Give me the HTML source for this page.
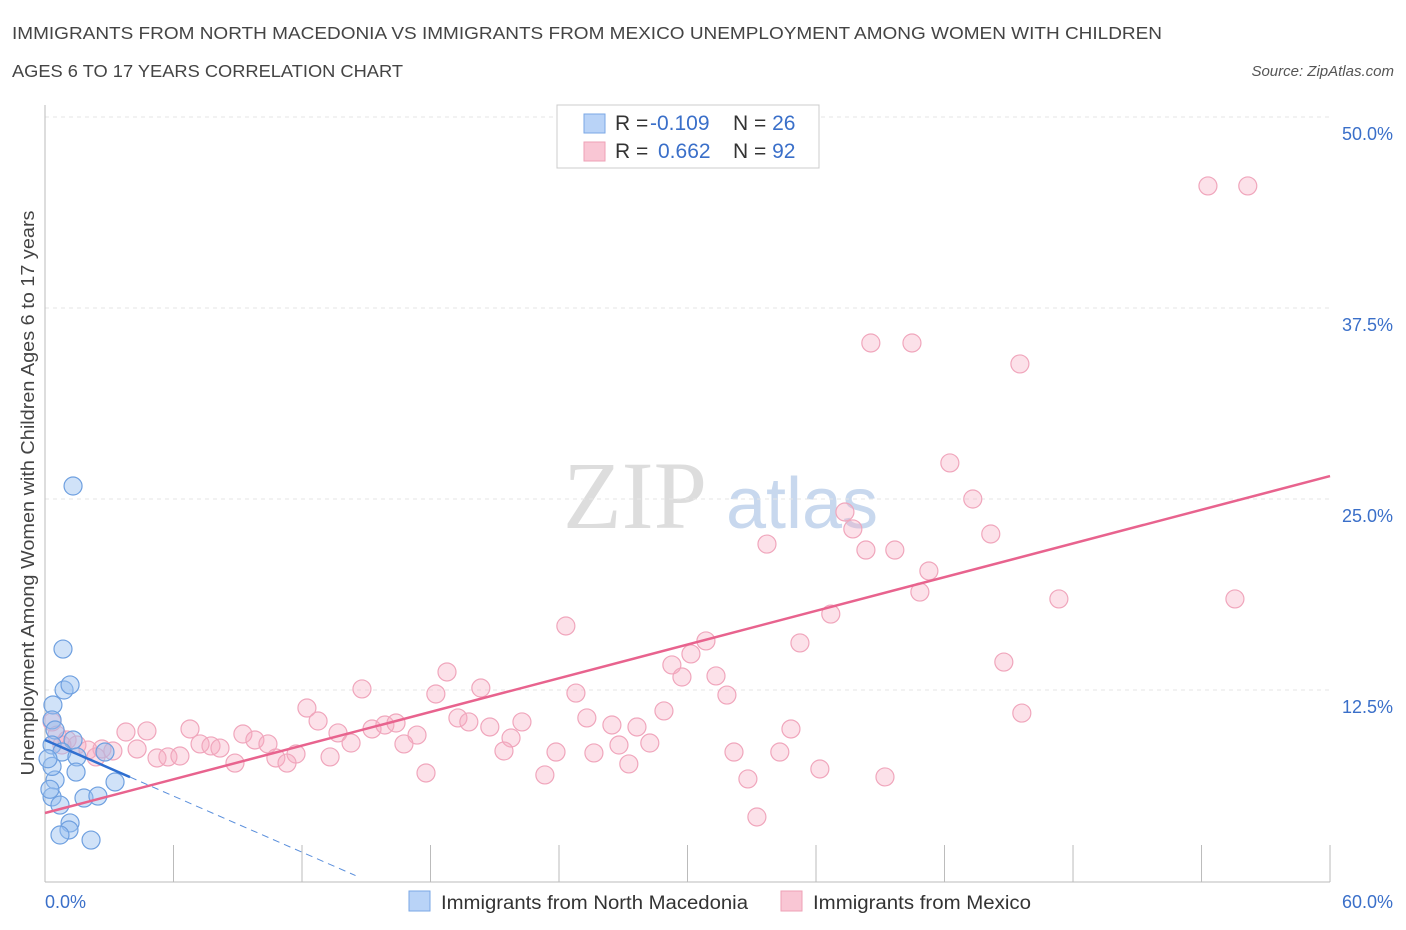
<!DOCTYPE html>
<html><head><meta charset="utf-8"><style>
body{margin:0;background:#fff;font-family:"Liberation Sans",sans-serif}
svg{display:block}
</style></head><body>
<svg id="c" width="1406" height="930" xmlns="http://www.w3.org/2000/svg">
<text x="12" y="39" font-size="17.5" textLength="1150" lengthAdjust="spacingAndGlyphs" fill="#444">IMMIGRANTS FROM NORTH MACEDONIA VS IMMIGRANTS FROM MEXICO UNEMPLOYMENT AMONG WOMEN WITH CHILDREN</text>
<text x="12" y="77" font-size="17.5" textLength="391" lengthAdjust="spacingAndGlyphs" fill="#444">AGES 6 TO 17 YEARS CORRELATION CHART</text>
<text x="1394" y="76" font-size="15" font-style="italic" fill="#555" text-anchor="end">Source: ZipAtlas.com</text>
<text x="635" y="528" font-size="96" font-family="Liberation Serif,serif" fill="#ddd" text-anchor="middle">ZIP</text>
<text x="802" y="528" font-size="72" fill="#c8d8ee" text-anchor="middle">atlas</text>
<text transform="translate(34,493) rotate(-90)" font-size="18" textLength="565" lengthAdjust="spacingAndGlyphs" fill="#444" text-anchor="middle">Unemployment Among Women with Children Ages 6 to 17 years</text>
<g id="grid"></g><g id="marks"></g>
<g>
<rect x="557" y="105" width="262" height="63" fill="#fff" stroke="#ccc"/>
<rect x="584" y="114" width="21" height="19" fill="#b9d3f7" stroke="#7aa7e6"/>
<rect x="584" y="142" width="21" height="19" fill="#f9c6d4" stroke="#eea0b6"/>
<text x="615" y="130" font-size="21" fill="#333">R = <tspan x="650" fill="#3a6fc9">-0.109</tspan><tspan x="733">N = </tspan><tspan fill="#3a6fc9">26</tspan></text>
<text x="615" y="158" font-size="21" fill="#333">R = <tspan x="658" fill="#3a6fc9">0.662</tspan><tspan x="733">N = </tspan><tspan fill="#3a6fc9">92</tspan></text>
</g>
<g>
<rect x="409" y="891" width="21" height="20" fill="#b9d3f7" stroke="#7aa7e6"/>
<text x="441" y="909" font-size="19" textLength="307" lengthAdjust="spacingAndGlyphs" fill="#333">Immigrants from North Macedonia</text>
<rect x="781" y="891" width="21" height="20" fill="#f9c6d4" stroke="#eea0b6"/>
<text x="813" y="909" font-size="19" textLength="218" lengthAdjust="spacingAndGlyphs" fill="#333">Immigrants from Mexico</text>
</g>
</svg>
<script>
const yTicks=[12.5,25,37.5,50];
const yTickLabels=["12.5%","25.0%","37.5%","50.0%"];
const xTicks=[0,6,12,18,24,30,36,42,48,54,60];
const xEndLabels=["0.0%","60.0%"];
const blueX=[1.31,0.84,0.89,1.17,0.37,0.33,0.47,1.31,0.33,0.79,1.49,2.8,1.45,0.47,3.27,0.33,1.82,2.47,0.7,1.17,1.12,0.7,2.15,0.33,0.23,0.14];
const blueY=[25.85,15.18,12.5,12.83,11.52,10.54,9.88,9.23,8.9,8.44,8.12,8.44,7.13,6.61,6.48,5.5,5.43,5.56,4.97,3.8,3.34,3.01,2.68,7.5,6.0,8.0];
const pinkX=[54.3,56.16,38.56,40.48,45.52,42.25,43.32,37.35,37.72,44.16,33.71,38.33,39.68,41.27,40.85,47.34,55.56,36.69,24.32,30.86,35.25,30.16,29.27,44.77,29.74,18.77,31.33,14.8,20.35,24.79,18.25,31.84,12.23,28.9,45.61,19.28,12.75,25.3,19.79,22.27,26.47,20.77,27.64,6.77,15.27,15.87,16.39,13.68,17.37,9.24,21.76,3.78,4.76,0.33,0.56,1.03,1.49,9.8,14.29,16.76,7.24,10.41,7.75,8.17,26.8,28.24,34.83,2.66,3.17,4.3,2.01,11.72,21.43,23.86,32.17,34.31,25.63,5.74,6.3,5.23,13.31,10.78,11.3,8.87,27.26,17.79,23.34,36.18,39.22,32.82,33.24,2.38,0.79];
const pinkY=[45.49,45.49,35.21,35.21,33.84,27.36,25.0,24.15,23.04,22.71,22.05,21.66,21.66,20.29,18.91,18.46,18.46,17.47,16.69,15.71,15.58,14.86,14.14,14.33,13.35,13.68,13.42,12.57,12.63,12.3,12.24,12.17,11.32,11.13,10.99,10.67,10.47,10.67,10.41,10.41,10.21,10.08,10.08,9.95,9.95,10.21,10.34,9.69,9.55,9.62,9.36,9.75,9.82,10.41,9.55,9.23,8.9,9.23,9.03,8.97,8.97,8.97,8.84,8.7,8.9,9.03,9.95,8.64,8.51,8.64,8.57,8.31,8.51,8.44,8.44,8.44,8.38,8.12,8.18,8.05,8.12,8.05,7.72,7.72,7.66,7.07,6.94,7.33,6.81,6.68,4.19,8.12,8.9];
const pinkTrend=[4.45,26.5];
const blueTrend=[9.23,-0.612];
const blueSolidEnd=3.97, blueDashEnd=14.5;
const X=v=>45+v*21.417, Y=v=>881-v*15.28;
const NS="http://www.w3.org/2000/svg";
function mk(t,a,p){const e=document.createElementNS(NS,t);for(const k in a)e.setAttribute(k,a[k]);p.appendChild(e);return e;}
const g=document.getElementById('grid'), m=document.getElementById('marks');
yTicks.forEach((v,i)=>{
 const l=mk('line',{x1:45,x2:1330,y1:Y(v),y2:Y(v),stroke:'#e6e6e6','stroke-dasharray':'4,4'},g);
 
 
 const t=mk('text',{x:1393,y:Y(v)+23,'font-size':18,fill:'#3a6fc9','text-anchor':'end'},g);t.textContent=yTickLabels[i];
 
 
});
const ax=mk('line',{x1:45,x2:1330,y1:882,y2:882,stroke:'#bbb'},g);


const ay=mk('line',{x1:45,x2:45,y1:105,y2:882,stroke:'#bbb'},g);


xTicks.forEach(v=>{const l=mk('line',{x1:X(v),x2:X(v),y1:845,y2:882,stroke:'#bbb'},g);
 
 });
const t0=mk('text',{x:45,y:908,'font-size':18,fill:'#3a6fc9'},g);t0.textContent=xEndLabels[0];


const t1=mk('text',{x:1393,y:908,'font-size':18,fill:'#3a6fc9','text-anchor':'end'},g);t1.textContent=xEndLabels[1];


pinkX.forEach((v,i)=>{const c=mk('circle',{cx:X(v),cy:Y(pinkY[i]),r:9,fill:'rgba(246,170,193,0.35)',stroke:'#f0a6bc','stroke-width':1.2},m);
 
 });
blueX.forEach((v,i)=>{const c=mk('circle',{cx:X(v),cy:Y(blueY[i]),r:9,fill:'rgba(150,190,240,0.45)',stroke:'#6fa0e0','stroke-width':1.2},m);
 
 });
const pl=mk('line',{x1:X(0),y1:Y(pinkTrend[0]),x2:X(60),y2:Y(pinkTrend[1]),stroke:'#e8638e','stroke-width':2.5},m);


const bl=mk('line',{x1:X(0),y1:Y(blueTrend[0]),x2:X(blueSolidEnd),y2:Y(blueTrend[0]+blueTrend[1]*blueSolidEnd),stroke:'#2f6fd0','stroke-width':2.5},m);


const bd=mk('line',{x1:X(blueSolidEnd),y1:Y(blueTrend[0]+blueTrend[1]*blueSolidEnd),x2:X(blueDashEnd),y2:Y(blueTrend[0]+blueTrend[1]*blueDashEnd),stroke:'#5a8fdc','stroke-width':1,'stroke-dasharray':'7,5'},m);


</script>
</body></html>
